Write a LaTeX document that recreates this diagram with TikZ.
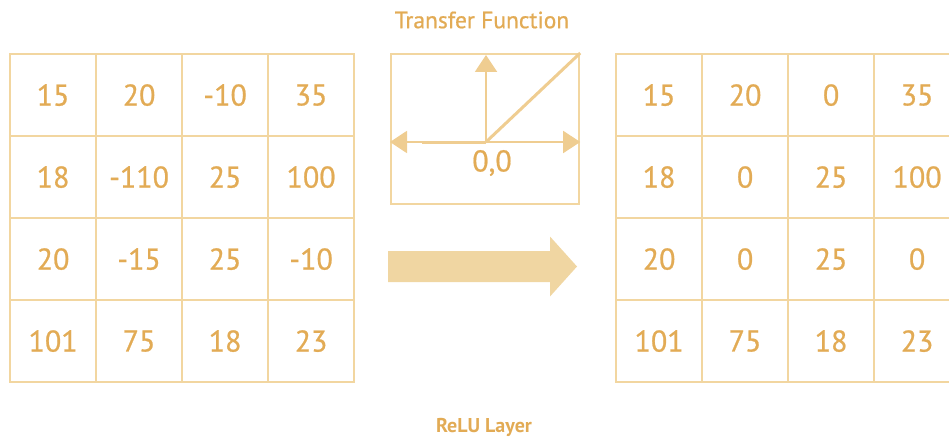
\documentclass[tikz,border=0pt]{standalone}
\usepackage{fontspec}
\setmainfont{PT Sans}
\newfontfamily\figfont{PT Sans}[FakeBold=0.7]
\usetikzlibrary{arrows.meta}
\definecolor{gridline}{HTML}{F2D6A0}
\definecolor{numtext}{HTML}{E2AB55}
\definecolor{flowfill}{HTML}{F0D6A2}
\tikzset{
  cell/.style={draw=gridline,line width=2.2pt,minimum width=86pt,minimum height=82pt,
    inner sep=0pt,text=numtext,font=\figfont\fontsize{30}{30}\selectfont,anchor=north west},
  axis/.style={draw=gridline!80!numtext,line width=2pt},
  tip/.style={-{Triangle[length=17pt,width=22pt]}},
}
\begin{document}
\begin{tikzpicture}[x=1pt,y=-1pt]
\useasboundingbox (0,0) rectangle (949,441);
% input feature map
\foreach \r/\vals in {1/{15,20,-10,35},2/{18,-110,25,100},3/{20,-15,25,-10},4/{101,75,18,23}}{
  \foreach \v [count=\c] in \vals{
    \node[cell] (in-\r-\c) at ({9+(\c-1)*86},{53+(\r-1)*82}) {\v};
  }
}
% output after rectification
\foreach \r/\vals in {1/{15,20,0,35},2/{18,0,25,100},3/{20,0,25,0},4/{101,75,18,23}}{
  \foreach \v [count=\c] in \vals{
    \node[cell] (out-\r-\c) at ({615+(\c-1)*86},{53+(\r-1)*82}) {\v};
  }
}
% transfer function sketch
\node[text=numtext,font=\figfont\fontsize{23.5}{23.5}\selectfont] (tftitle) at (482,20) {Transfer Function};
\node[draw=gridline,line width=2.2pt,minimum width=188pt,minimum height=150pt,inner sep=0pt,anchor=north west] (tf) at (390,53) {};
\coordinate (origin) at (486,142);
\draw[axis,{Triangle[length=17pt,width=22pt]}-{Triangle[length=17pt,width=22pt]}] (tf.west |- origin) -- (tf.east |- origin);
\draw[axis,line width=3pt] (origin) -- ++(-64,0);
\draw[axis,tip] (origin) -- ([yshift=-2pt]origin |- tf.north);
\draw[axis,line width=3pt] (origin) -- (tf.north east);
\node[text=numtext,font=\figfont\fontsize{30}{30}\selectfont] (zero) at (492,163) {0,0};
% flow arrow between the two maps
\coordinate (flowtail) at (388,266.5);
\coordinate (flowtip) at (577,266.5);
\fill[flowfill] (flowtail) ++(0,-15.5) -- ++(162,0) -- ++(0,-14.5) -- (flowtip)
  -- ++(-27,30) -- ++(0,-14.5) -- ++(-162,0) -- cycle;
\node[text=numtext,font=\bfseries\fontsize{20}{20}\selectfont] (caption) at (484,427) {ReLU Layer};
\end{tikzpicture}
\end{document}
